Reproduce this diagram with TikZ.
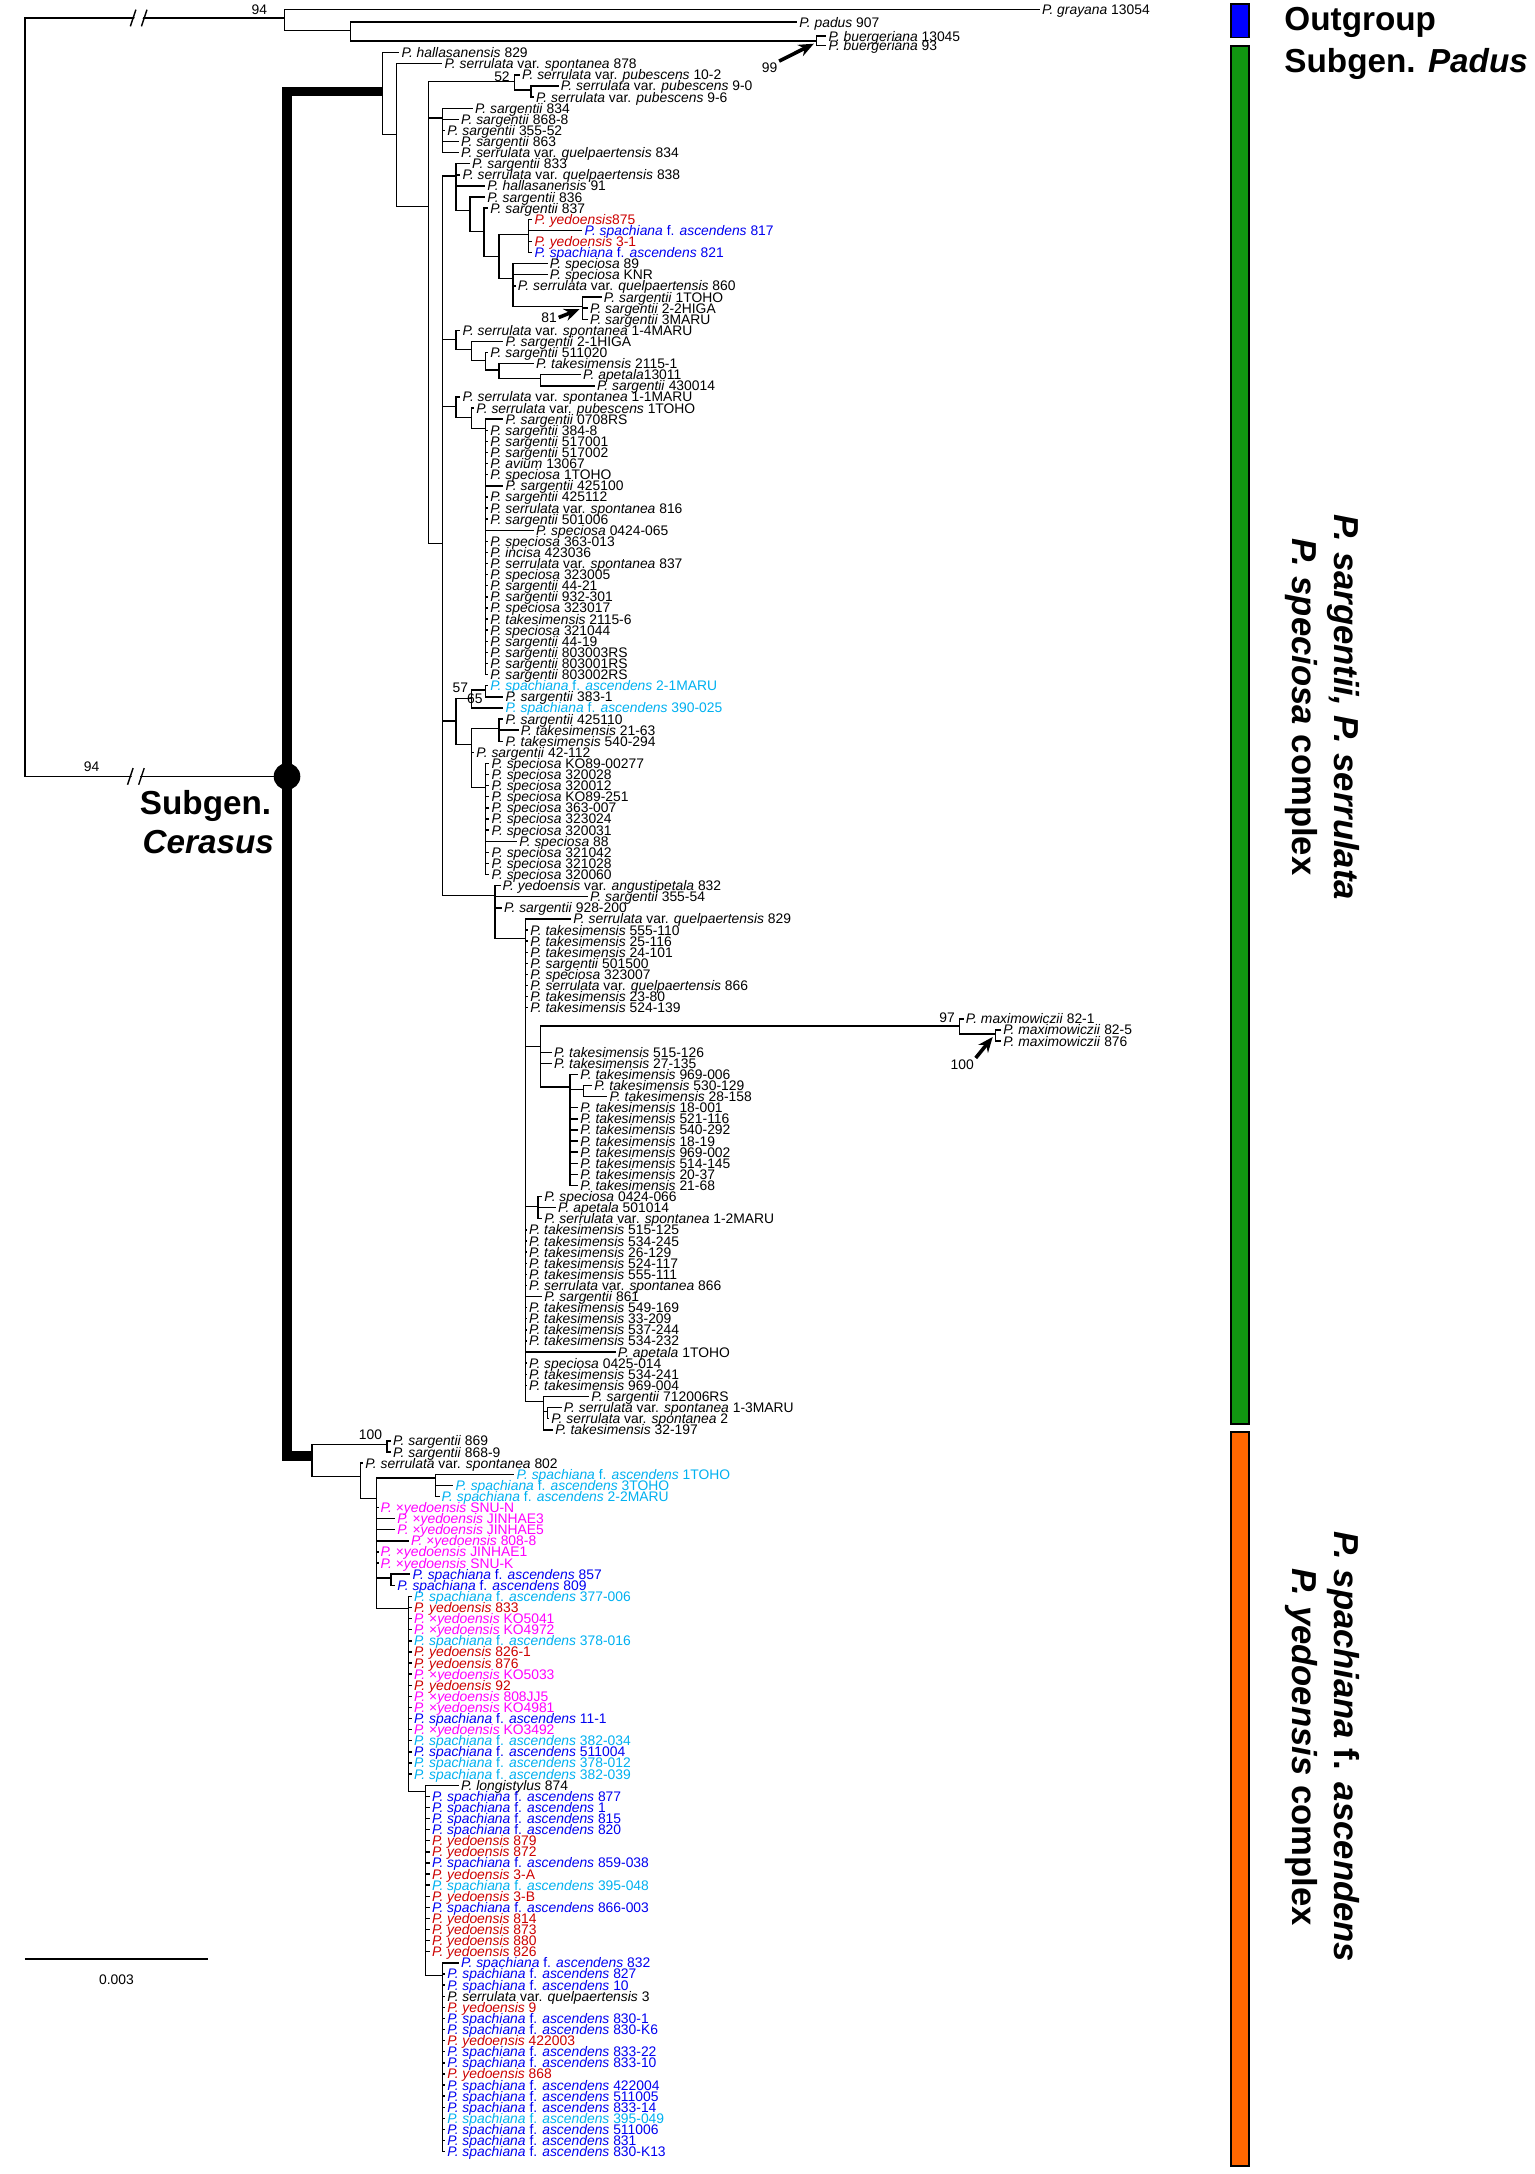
\documentclass[tikz,border=0pt]{standalone}
\usepackage{fontspec}
\setmainfont{Liberation Sans}
\usetikzlibrary{arrows.meta}

\definecolor{spb}{RGB}{0,0,240}
\definecolor{spc}{RGB}{0,176,240}
\definecolor{ydr}{RGB}{204,0,0}
\definecolor{xym}{RGB}{255,0,255}
\definecolor{ogblue}{RGB}{0,0,255}
\definecolor{cergreen}{RGB}{17,150,17}
\definecolor{spaorange}{RGB}{255,102,0}

\newcommand\Psarg[1]{\textit{P. sargentii} #1}
\newcommand\Pspec[1]{\textit{P. speciosa} #1}
\newcommand\Ptake[1]{\textit{P. takesimensis} #1}
\newcommand\Phall[1]{\textit{P. hallasanensis} #1}
\newcommand\Pspon[1]{\textit{P. serrulata} var. \textit{spontanea} #1}
\newcommand\Pquel[1]{\textit{P. serrulata} var. \textit{quelpaertensis} #1}
\newcommand\Ppube[1]{\textit{P. serrulata} var. \textit{pubescens} #1}
\newcommand\Pspac[1]{\textit{P. spachiana} f. \textit{ascendens} #1}
\newcommand\Pyedo[1]{\textit{P. yedoensis} #1}
\newcommand\Pxyed[1]{\textit{P.} ×\textit{yedoensis} #1}
\newcommand\Pmaxi[1]{\textit{P. maximowiczii} #1}
\newcommand\Papet[1]{\textit{P. apetala} #1}

\tikzset{
  br/.style={line width=0.5pt},
  thk/.style={line width=3.6pt},
  leaf/.style={anchor=west,inner sep=0.6pt,text height=3.6pt,text depth=0pt,font=\fontsize{5}{6}\selectfont},
  bs/.style={inner sep=0.5pt,font=\fontsize{5}{6}\selectfont},
  bsarrow/.style={-{Stealth[length=5.5pt,width=4.5pt]},line width=1.3pt},
  bar/.style={draw=black,line width=0.6pt},
  side/.style={inner sep=0pt,font=\fontsize{12}{14}\selectfont\bfseries},
  rside/.style={inner sep=0pt,rotate=-90,font=\fontsize{12.5}{14}\selectfont\bfseries},
}

\begin{document}
\begin{tikzpicture}[x=0.5pt,y=-0.5pt]
\useasboundingbox (0,0) rectangle (1107,1568);

% inner nodes of the tree
\foreach \nm/\xx/\yy in {R/18/300, O/205/13, P/253/22, Q/589/29.5, Cer/207/560,
  A/276/66, B/286/97, C/309/149, N52/371/59, N52b/383/65, E/319/85, D/319/392,
  F/329/127, N2/339/152, N3/349/167, N4/360/185, N5/381/169, N6/370/201, N8/420/221,
  G/329/245, H/340/252, I/350/260, J/360/267, K/390/273, M/329/293, M2/340/301, L/350/309,
  O57/329/520, N57/340/503.6, N65/350/497.6, T/340/537, T2/360/525.6, S/350/568,
  U/357/646, V/379/677, X/390/755, Mx/692/740, Mx2/718/745.9, Y/411/784, Y2/421/785.9,
  Z/388/870, AA/392/1011, AB/395/1018,
  Lw/225/1050, N100/279/1042, Lw2/260/1065, Lw3/271.5/1081, Cy/314/1066, Sp/282/1138,
  Lw4/294.5/1160, Lw5/307/1292, Lw6/319/1425}
  \coordinate (\nm) at (\xx,\yy);

\foreach \a/\b in {R/O, R/Cer, O/P, P/Q, A/B, B/C, C/N52, N52/N52b, C/E, C/D, D/F,
  F/N2, N2/N3, N3/N4, N4/N5, N4/N6, N6/N8, D/G, G/H, H/I, I/J, J/K, D/M, M/M2, M2/L,
  D/O57, O57/N57, N57/N65, O57/T, T/T2, T/S, D/U, U/V, V/X, X/Mx, Mx/Mx2, X/Y, Y/Y2,
  V/Z, V/AA, AA/AB, Lw/N100, Lw/Lw2, Lw2/Lw3, Lw3/Cy, Lw3/Sp, Lw3/Lw4, Lw4/Lw5, Lw5/Lw6}
  \draw[br] (\a) |- (\b);

% outgroup
\foreach \lid/\lpar/\ltip/\ly/\ltxt in {g1/O/750/7/{\textit{P. grayana} 13054},
  g2/P/575/16/{\textit{P. padus} 907}, g3/Q/596/26/{\textit{P. buergeriana} 13045},
  g4/Q/596/33/{\textit{P. buergeriana} 93}}{
  \node[leaf] (\lid) at (\ltip,\ly) {\ltxt};
  \draw[br] (\lpar) |- (\lid.west);
}

% ingroup leaves
\foreach \lid/\lpar/\ltip/\lcol/\ltxt in {
  1/A/288/black/\Phall{829}, 2/B/319/black/\Pspon{878}, 3/N52/375/black/\Ppube{10-2},
  4/N52b/403/black/\Ppube{9-0}, 5/N52b/385/black/\Ppube{9-6}, 6/E/341/black/\Psarg{834},
  7/E/331/black/\Psarg{868-8}, 8/E/321/black/\Psarg{355-52}, 9/E/331/black/\Psarg{863},
  10/E/331/black/\Pquel{834}, 11/F/339/black/\Psarg{833}, 12/F/332/black/\Pquel{838},
  13/F/350/black/\Phall{91}, 14/N2/350/black/\Psarg{836}, 15/N3/352/black/\Psarg{837},
  16/N5/384/ydr/{\textit{P. yedoensis}875}, 17/N5/420/spb/\Pspac{817},
  18/N5/384/ydr/\Pyedo{3-1}, 19/N5/384/spb/\Pspac{821}, 20/N6/395/black/\Pspec{89},
  21/N6/395/black/\Pspec{KNR}, 22/N6/372/black/\Pquel{860}, 23/N8/434/black/\Psarg{1TOHO},
  24/N8/424/black/\Psarg{2-2HIGA}, 25/N8/424/black/\Psarg{3MARU},
  26/G/332/black/\Pspon{1-4MARU}, 27/H/363/black/\Psarg{2-1HIGA}, 28/I/352/black/\Psarg{511020},
  29/J/385/black/\Ptake{2115-1}, 30/K/419/black/{\textit{P. apetala}13011},
  31/K/429/black/\Psarg{430014}, 32/M/332/black/\Pspon{1-1MARU}, 33/M2/342/black/\Ppube{1TOHO},
  34/L/363/black/\Psarg{0708RS}, 35/L/352/black/\Psarg{384-8}, 36/L/352/black/\Psarg{517001},
  37/L/352/black/\Psarg{517002}, 38/L/352/black/{\textit{P. avium} 13067},
  39/L/352/black/\Pspec{1TOHO}, 40/L/363/black/\Psarg{425100}, 41/L/352/black/\Psarg{425112},
  42/L/352/black/\Pspon{816}, 43/L/352/black/\Psarg{501006}, 44/L/385/black/\Pspec{0424-065},
  45/L/352/black/\Pspec{363-013}, 46/L/352/black/{\textit{P. incisa} 423036},
  47/L/352/black/\Pspon{837}, 48/L/352/black/\Pspec{323005}, 49/L/352/black/\Psarg{44-21},
  50/L/352/black/\Psarg{932-301}, 51/L/352/black/\Pspec{323017}, 52/L/352/black/\Ptake{2115-6},
  53/L/352/black/\Pspec{321044}, 54/L/352/black/\Psarg{44-19}, 55/L/352/black/\Psarg{803003RS},
  56/L/352/black/\Psarg{803001RS}, 57/L/352/black/\Psarg{803002RS},
  58/N65/352/spc/\Pspac{2-1MARU}, 59/N65/363/black/\Psarg{383-1}, 60/N57/363/spc/\Pspac{390-025},
  61/T2/363/black/\Psarg{425110}, 62/T2/374/black/\Ptake{21-63}, 63/T2/363/black/\Ptake{540-294},
  64/T/342/black/\Psarg{42-112}, 65/S/353/black/\Pspec{KO89-00277}, 66/S/353/black/\Pspec{320028},
  67/S/353/black/\Pspec{320012}, 68/S/353/black/\Pspec{KO89-251}, 69/S/353/black/\Pspec{363-007},
  70/S/353/black/\Pspec{323024}, 71/S/353/black/\Pspec{320031}, 72/S/373/black/\Pspec{88},
  73/S/353/black/\Pspec{321042}, 74/S/353/black/\Pspec{321028}, 75/S/353/black/\Pspec{320060},
  76/U/361/black/{\textit{P. yedoensis} var. \textit{angustipetala} 832},
  77/U/424/black/\Psarg{355-54}, 78/U/362/black/\Psarg{928-200}, 79/V/412/black/\Pquel{829},
  80/V/381/black/\Ptake{555-110}, 81/V/381/black/\Ptake{25-116}, 82/V/381/black/\Ptake{24-101},
  83/V/381/black/\Psarg{501500}, 84/V/381/black/\Pspec{323007}, 85/V/381/black/\Pquel{866},
  86/V/381/black/\Ptake{23-80}, 87/V/381/black/\Ptake{524-139}, 88/Mx/695/black/\Pmaxi{82-1},
  89/Mx2/722/black/\Pmaxi{82-5}, 90/Mx2/722/black/\Pmaxi{876}, 91/X/398/black/\Ptake{515-126},
  92/X/398/black/\Ptake{27-135}, 93/Y/417/black/\Ptake{969-006}, 94/Y2/427/black/\Ptake{530-129},
  95/Y2/438/black/\Ptake{28-158}, 96/Y/417/black/\Ptake{18-001}, 97/Y/417/black/\Ptake{521-116},
  98/Y/417/black/\Ptake{540-292}, 99/Y/417/black/\Ptake{18-19}, 100/Y/417/black/\Ptake{969-002},
  101/Y/417/black/\Ptake{514-145}, 102/Y/417/black/\Ptake{20-37}, 103/Y/417/black/\Ptake{21-68},
  104/Z/391/black/\Pspec{0424-066}, 105/Z/401/black/\Papet{501014}, 106/Z/391/black/\Pspon{1-2MARU},
  107/V/380/black/\Ptake{515-125}, 108/V/380/black/\Ptake{534-245}, 109/V/380/black/\Ptake{26-129},
  110/V/380/black/\Ptake{524-117}, 111/V/380/black/\Ptake{555-111}, 112/V/380/black/\Pspon{866},
  113/V/391/black/\Psarg{861}, 114/V/380/black/\Ptake{549-169}, 115/V/380/black/\Ptake{33-209},
  116/V/380/black/\Ptake{537-244}, 117/V/380/black/\Ptake{534-232}, 118/V/444/black/\Papet{1TOHO},
  119/V/380/black/\Pspec{0425-014}, 120/V/380/black/\Ptake{534-241}, 121/V/380/black/\Ptake{969-004},
  122/AA/425/black/\Psarg{712006RS}, 123/AB/405/black/\Pspon{1-3MARU}, 124/AB/396/black/\Pspon{2},
  125/AA/399/black/\Ptake{32-197},
  126/N100/282/black/\Psarg{869}, 127/N100/282/black/\Psarg{868-9}, 128/Lw2/262/black/\Pspon{802},
  129/Cy/371/spc/\Pspac{1TOHO}, 130/Cy/327/spc/\Pspac{3TOHO}, 131/Cy/317/spc/\Pspac{2-2MARU},
  132/Lw3/273/xym/\Pxyed{SNU-N}, 133/Lw3/285/xym/\Pxyed{JINHAE3}, 134/Lw3/285/xym/\Pxyed{JINHAE5},
  135/Lw3/295/xym/\Pxyed{808-8}, 136/Lw3/273/xym/\Pxyed{JINHAE1}, 137/Lw3/273/xym/\Pxyed{SNU-K},
  138/Sp/296/spb/\Pspac{857}, 139/Sp/285/spb/\Pspac{809},
  140/Lw4/297/spc/\Pspac{377-006}, 141/Lw4/297/ydr/\Pyedo{833}, 142/Lw4/297/xym/\Pxyed{KO5041},
  143/Lw4/297/xym/\Pxyed{KO4972}, 144/Lw4/297/spc/\Pspac{378-016}, 145/Lw4/297/ydr/\Pyedo{826-1},
  146/Lw4/297/ydr/\Pyedo{876}, 147/Lw4/297/xym/\Pxyed{KO5033}, 148/Lw4/297/ydr/\Pyedo{92},
  149/Lw4/297/xym/\Pxyed{808JJ5}, 150/Lw4/297/xym/\Pxyed{KO4981}, 151/Lw4/297/spb/\Pspac{11-1},
  152/Lw4/297/xym/\Pxyed{KO3492}, 153/Lw4/297/spc/\Pspac{382-034}, 154/Lw4/297/spb/\Pspac{511004},
  155/Lw4/297/spc/\Pspac{378-012}, 156/Lw4/297/spc/\Pspac{382-039},
  157/Lw5/331/black/{\textit{P. longistylus} 874}, 158/Lw5/310/spb/\Pspac{877},
  159/Lw5/310/spb/\Pspac{1}, 160/Lw5/310/spb/\Pspac{815}, 161/Lw5/310/spb/\Pspac{820},
  162/Lw5/310/ydr/\Pyedo{879}, 163/Lw5/310/ydr/\Pyedo{872}, 164/Lw5/310/spb/\Pspac{859-038},
  165/Lw5/310/ydr/\Pyedo{3-A}, 166/Lw5/310/spc/\Pspac{395-048}, 167/Lw5/310/ydr/\Pyedo{3-B},
  168/Lw5/310/spb/\Pspac{866-003}, 169/Lw5/310/ydr/\Pyedo{814}, 170/Lw5/310/ydr/\Pyedo{873},
  171/Lw5/310/ydr/\Pyedo{880}, 172/Lw5/310/ydr/\Pyedo{826},
  173/Lw6/331/spb/\Pspac{832}, 174/Lw6/321/spb/\Pspac{827}, 175/Lw6/321/spb/\Pspac{10},
  176/Lw6/321/black/\Pquel{3}, 177/Lw6/321/ydr/\Pyedo{9}, 178/Lw6/321/spb/\Pspac{830-1},
  179/Lw6/321/spb/\Pspac{830-K6}, 180/Lw6/321/ydr/\Pyedo{422003}, 181/Lw6/321/spb/\Pspac{833-22},
  182/Lw6/321/spb/\Pspac{833-10}, 183/Lw6/321/ydr/\Pyedo{868}, 184/Lw6/321/spb/\Pspac{422004},
  185/Lw6/321/spb/\Pspac{511005}, 186/Lw6/321/spb/\Pspac{833-14}, 187/Lw6/321/spc/\Pspac{395-049},
  188/Lw6/321/spb/\Pspac{511006}, 189/Lw6/321/spb/\Pspac{831}, 190/Lw6/321/spb/\Pspac{830-K13}}{
  \pgfmathsetmacro\ly{38+(\lid-1)*8.01}
  \node[leaf,text=\lcol] (l\lid) at (\ltip,\ly) {\ltxt};
  \draw[br] (\lpar) |- (l\lid.west);
}

% broken root branches
\foreach \bx/\by in {100/13, 98/560}{
  \fill[white] (\bx-5,\by+6) -- (\bx-1,\by-6) -- (\bx+5,\by-6) -- (\bx+1,\by+6) -- cycle;
  \draw[br] (\bx-6,\by+6) -- (\bx-2,\by-6) (\bx+2,\by+6) -- (\bx+6,\by-6);
}

% subgenus Cerasus stem
\draw[thk] (Cer) |- (A);
\draw[thk] (Cer) |- (Lw);
\fill (Cer) circle[radius=4.8pt];

% support values
\node[bs,anchor=south east] (bs94a) at (194,12) {94};
\node[bs,anchor=south] (bs94b) at (66,558) {94};
\node[bs] (bs99) at (555,49) {99};
\node[bs,anchor=south east] (bs52) at (369,60) {52};
\node[bs] (bs81) at (396,229) {81};
\node[bs,anchor=south east] (bs57) at (339,501) {57};
\node[bs,anchor=north east] (bs65) at (349.5,499) {65};
\node[bs,anchor=east] (bs97) at (690,734) {97};
\node[bs] (bs100a) at (694,768) {100};
\node[bs,anchor=south east] (bs100b) at (277,1040) {100};
\draw[bsarrow] (bs99.north east) -- ([shift={(-2,2)}]Q);
\draw[bsarrow] (bs81.east) -- ([shift={(-2,2)}]N8);
\draw[bsarrow] (bs100a.north east) -- ([shift={(-2,2)}]Mx2);

% scale bar
\draw[br] (18,1413) -- (150,1413) node[bs,midway,below=5pt] (scl) {0.003};

% group bars and names
\draw[bar,fill=ogblue] (888,3) rectangle (901,27);
\draw[bar,fill=cergreen] (888,33) rectangle (901,1027);
\draw[bar,fill=spaorange] (888,1033) rectangle (901,1562);
\node[side,anchor=west] (tog) at (926,16) {Outgroup};
\node[side,anchor=west] (tpad) at (926,46) {Subgen. \textit{Padus}};
\node[rside] (tsar) at (969,510) {\textit{P. sargentii, P. serrulata}};
\node[rside] (tspe) at (939,510) {\textit{P. speciosa} complex};
\node[rside] (tspa) at (969,1260) {\textit{P. spachiana} f. \textit{ascendens}};
\node[rside] (tyed) at (939,1260) {\textit{P. yedoensis} complex};
\node[side,anchor=east] (tsub) at (196,581) {Subgen.};
\node[side,anchor=east] (tcer) at (198,607) {\textit{Cerasus}};

\end{tikzpicture}
\end{document}
